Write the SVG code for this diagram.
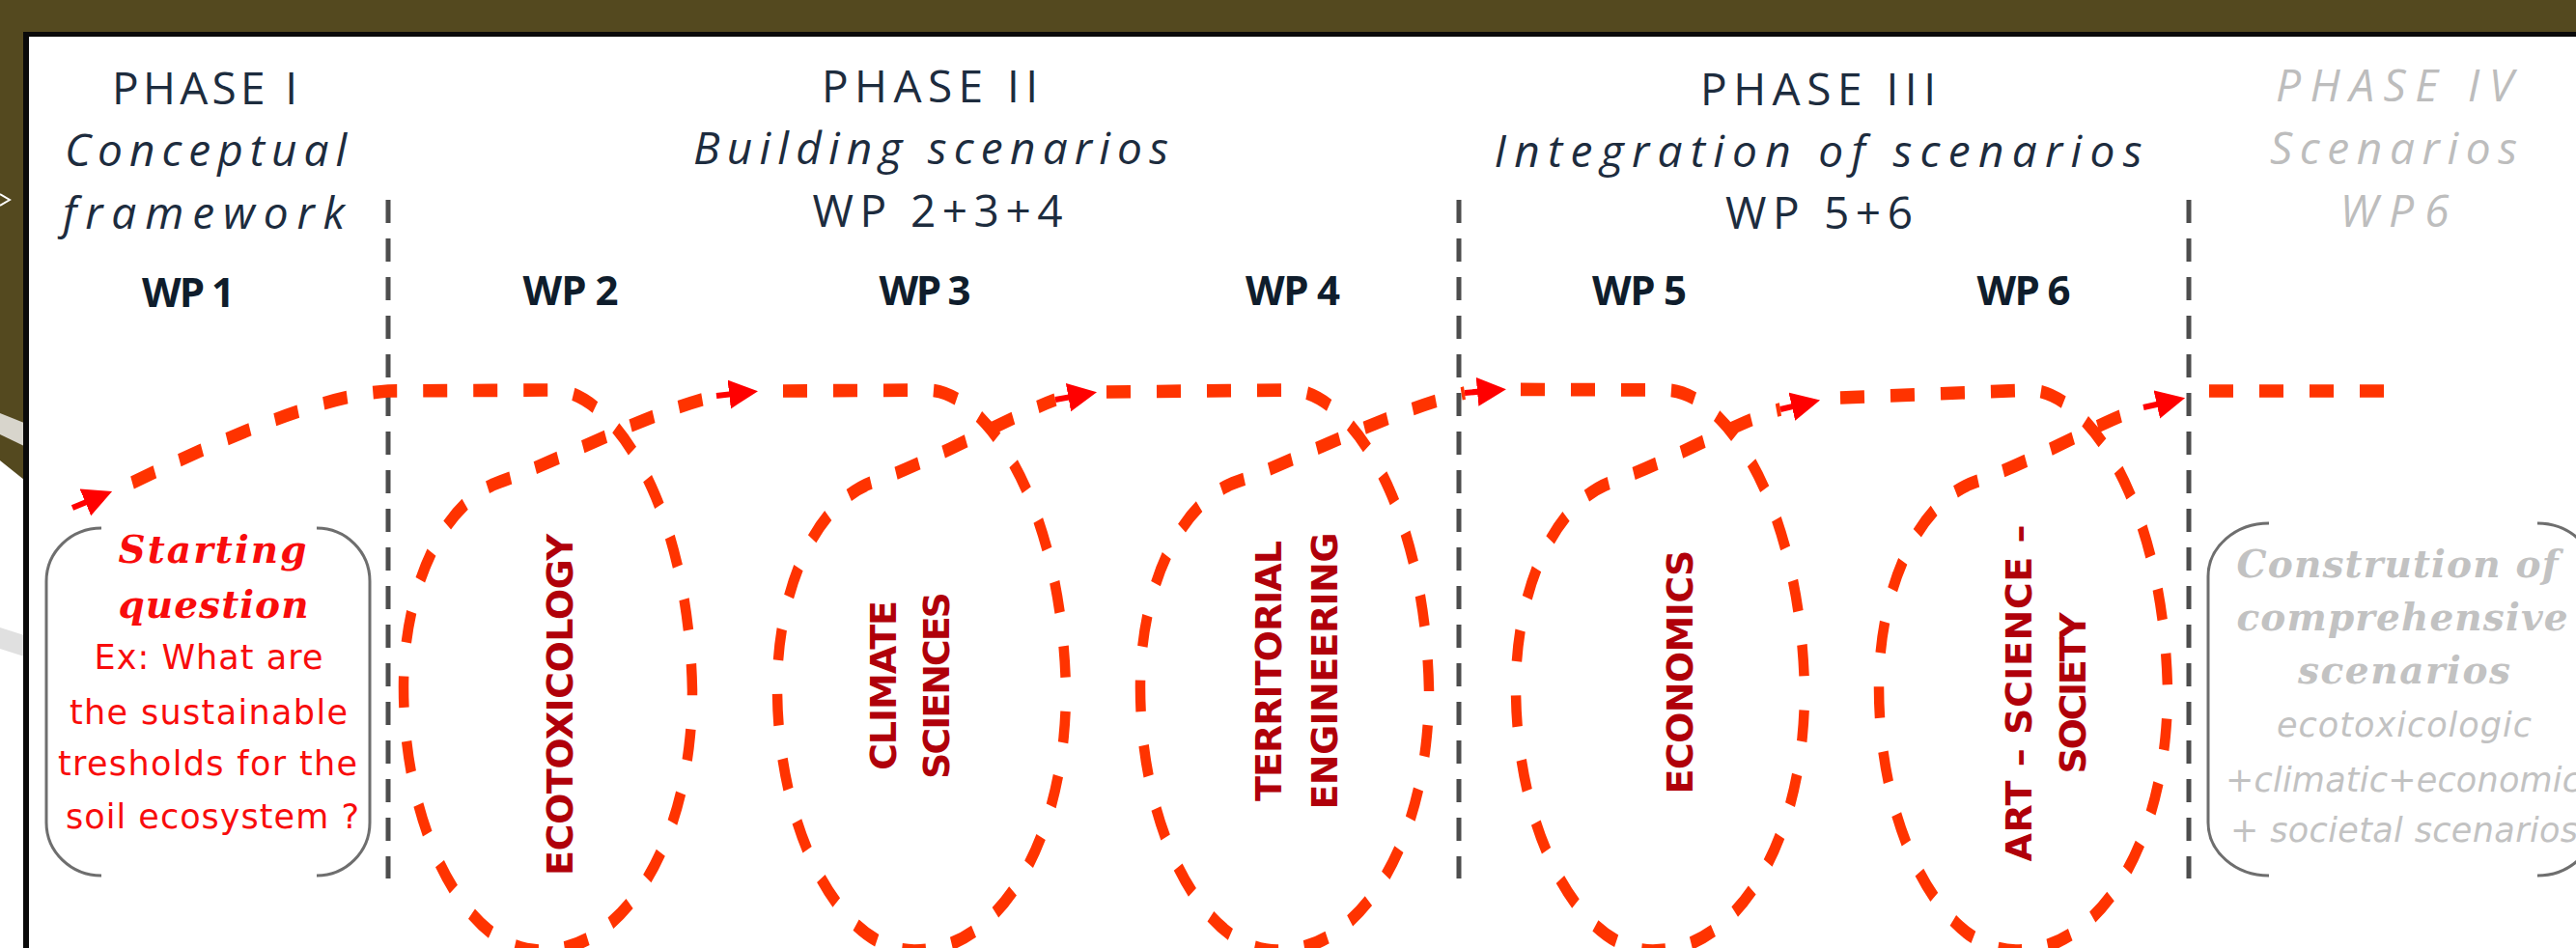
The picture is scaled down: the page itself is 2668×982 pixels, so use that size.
<svg xmlns="http://www.w3.org/2000/svg" width="2668" height="982" viewBox="0 0 2668 982">
<defs>
<style>
.hd{font-family:"Open Sans","Liberation Sans",sans-serif;font-size:46px;fill:#1d2c3e;text-anchor:middle}
.it{font-style:italic}
.g4{fill:#bdbdbd}
.wp{font-family:"Open Sans","Liberation Sans",sans-serif;font-weight:bold;font-size:42px;fill:#0f1d2c;text-anchor:middle}
.vt{font-family:"DejaVu Sans","Liberation Sans",sans-serif;font-weight:bold;font-size:38px;fill:#b0000a;text-anchor:middle}
.sq{font-family:"DejaVu Serif","Liberation Serif",serif;font-weight:bold;font-style:italic;font-size:39px;text-anchor:middle}
.sn{font-family:"DejaVu Sans","Liberation Sans",sans-serif;font-size:35px;text-anchor:middle}
.red{fill:#f80c0c}
.gr{fill:#c2c2c2}
.div{stroke:#4d4d4d;stroke-width:5;stroke-dasharray:24 16;fill:none}
.loop{fill:none;stroke:#ff3300;stroke-width:10.5;stroke-dasharray:25 27}
.arw{stroke:#ff0000;stroke-width:6;fill:none}
.br{fill:none;stroke:#6e6e6e;stroke-width:3}
</style>
<marker id="ah" markerUnits="userSpaceOnUse" markerWidth="34" markerHeight="32" viewBox="0 0 34 32" refX="17" refY="15" orient="auto">
<path d="M0,0 L30,15 L0,30 Z" fill="#ff0000"/>
</marker>
</defs>
<rect width="2668" height="982" fill="#ffffff"/>
<g id="frame">
<rect x="0" y="0" width="2668" height="34" fill="#54491f"/>
<polygon points="0,0 25,0 25,497 0,477" fill="#54491f"/>
<polygon points="0,428 25,438 25,462 0,450" fill="#d8d5cc"/>
<polygon points="0,650 25,658 25,680 0,672" fill="#e0e0e0"/>
<polyline points="0,201 10,207 0,213" fill="none" stroke="#ffffff" stroke-width="2"/>
<rect x="24" y="33" width="2644" height="5" fill="#0a0a0a"/>
<rect x="24" y="33" width="6" height="949" fill="#0a0a0a"/>
</g>
<g id="dividers">
<line class="div" x1="402" y1="207" x2="402" y2="910"/>
<line class="div" x1="1511" y1="207" x2="1511" y2="910"/>
<line class="div" x1="2267" y1="207" x2="2267" y2="910"/>
</g>
<g id="phase1">
<text class="hd" x="212" y="108" textLength="192">PHASE I</text>
<text class="hd it" x="213" y="172" textLength="292">Conceptual</text>
<text class="hd it" x="211" y="237" textLength="292">framework</text>
</g>
<g id="phase2">
<text class="hd" x="963" y="106" textLength="224">PHASE II</text>
<text class="hd it" x="964" y="170" textLength="492">Building scenarios</text>
<text class="hd" x="971" y="235" textLength="259">WP 2+3+4</text>
</g>
<g id="phase3">
<text class="hd" x="1883" y="109" textLength="244">PHASE III</text>
<text class="hd it" x="1883" y="173" textLength="671">Integration of scenarios</text>
<text class="hd" x="1884" y="237" textLength="194">WP 5+6</text>
</g>
<g id="phase4">
<text class="hd it g4" x="2480" y="105" textLength="246">PHASE IV</text>
<text class="hd it g4" x="2479" y="170" textLength="256">Scenarios</text>
<text class="hd it g4" x="2480" y="235" textLength="113">WP6</text>
</g>
<g id="wp-labels">
<text class="wp" x="195" y="318" textLength="96">WP 1</text>
<text class="wp" x="591" y="316" textLength="99">WP 2</text>
<text class="wp" x="958" y="316" textLength="95">WP 3</text>
<text class="wp" x="1339" y="316" textLength="98">WP 4</text>
<text class="wp" x="1698" y="316" textLength="98">WP 5</text>
<text class="wp" x="2096" y="316" textLength="97">WP 6</text>
</g>
<g id="start-question">
<path class="br" d="M105,547 A57,55 0 0 0 48,602 L48,852 A57,55 0 0 0 105,907 M328,547 A55,55 0 0 1 383,602 L383,852 A55,55 0 0 1 328,907"/>
<text class="sq red" x="220" y="583" textLength="195">Starting</text>
<text class="sq red" x="221" y="640" textLength="197">question</text>
<text class="sn red" x="216" y="693" textLength="237">Ex: What are</text>
<text class="sn red" x="216" y="750" textLength="288">the sustainable</text>
<text class="sn red" x="215" y="803" textLength="310">tresholds for the</text>
<text class="sn red" x="220" y="858" textLength="304">soil ecosystem ?</text>
</g>
<g id="ecotoxicology"><text class="vt" transform="translate(593,730) rotate(-90)" textLength="354">ECOTOXICOLOGY</text></g>
<g id="climate-sciences">
<text class="vt" transform="translate(928,710) rotate(-90)" textLength="176">CLIMATE</text>
<text class="vt" transform="translate(983,710) rotate(-90)" textLength="194">SCIENCES</text>
</g>
<g id="territorial-engineering">
<text class="vt" transform="translate(1327,695) rotate(-90)" textLength="270">TERRITORIAL</text>
<text class="vt" transform="translate(1385,695) rotate(-90)" textLength="287">ENGINEERING</text>
</g>
<g id="economics"><text class="vt" transform="translate(1753,696) rotate(-90)" textLength="253">ECONOMICS</text></g>
<g id="art-science-society">
<text class="vt" transform="translate(2104,718) rotate(-90)" textLength="349">ART – SCIENCE –</text>
<text class="vt" transform="translate(2160,718) rotate(-90)" textLength="167">SOCIETY</text>
</g>
<g id="comprehensive-scenarios">
<path class="br" d="M2350,542 A63,55 0 0 0 2287,597 L2287,852 A63,55 0 0 0 2350,907 M2628,542 A60,55 0 0 1 2688,597 L2688,852 A60,55 0 0 1 2628,907"/>
<text class="sq gr" x="2483" y="598" textLength="333">Constrution of</text>
<text class="sq gr" x="2488" y="653" textLength="343">comprehensive</text>
<text class="sq gr" x="2490" y="708" textLength="220">scenarios</text>
<text class="sn gr it" x="2490" y="763" textLength="264">ecotoxicologic</text>
<text class="sn gr it" x="2305" y="820" textLength="368" style="text-anchor:start">+climatic+economic</text>
<text class="sn gr it" x="2310" y="872" textLength="360" style="text-anchor:start">+ societal scenarios</text>
</g>
<g id="connectors">
<g transform="matrix(1 0 0 1.3 0 -121.2)">
<path class="loop" d="M137,477.85 C230,443.23 330,408.62 402,404.77 L573,404 C633,404 713,493.23 717,643.23 C717,762.46 648,850.92 560,850.92 C483,850.92 418,754.77 418,640.92 C418,562.46 458,493.23 518,477.08 C578,460.92 668,422.46 742,408.62"/>
<path class="loop" d="M811,404.77 L960,404 C1020,404 1100,493.23 1104,643.23 C1104,762.46 1035,850.92 947,850.92 C870,850.92 805,754.77 805,640.92 C805,562.46 845,493.23 905,477.08 C965,460.92 1045,425.54 1093,411.69"/>
<path class="loop" d="M1146,405.54 L1336,404 C1396,404 1476,493.23 1480,643.23 C1480,762.46 1411,850.92 1323,850.92 C1246,850.92 1181,754.77 1181,640.92 C1181,562.46 1221,493.23 1281,477.08 C1341,460.92 1436,421.69 1517,406.31"/>
<path class="loop" d="M1575,403.5 L1725,404 C1785,404 1865,493.23 1869,643.23 C1869,762.46 1800,850.92 1712,850.92 C1635,850.92 1570,754.77 1570,640.92 C1570,562.46 1610,493.23 1670,477.08 C1730,460.92 1800,428.62 1844,419.38"/>
<path class="loop" d="M1906,410.15 L2101,404 C2161,404 2241,493.23 2245,643.23 C2245,762.46 2176,850.92 2088,850.92 C2011,850.92 1946,754.77 1946,640.92 C1946,562.46 1986,493.23 2046,477.08 C2106,460.92 2176,428.62 2220,417.85"/>
<path class="loop" d="M2288,404.77 L2469,404.77"/>
</g>
<line class="arw" x1="75" y1="526" x2="104.1" y2="513.9" marker-end="url(#ah)"/>
<line class="arw" x1="742" y1="410" x2="772.1" y2="406.6" marker-end="url(#ah)"/>
<line class="arw" x1="1093" y1="414" x2="1123.2" y2="408.6" marker-end="url(#ah)"/>
<line class="arw" x1="1517" y1="407" x2="1547" y2="404.3" marker-end="url(#ah)"/>
<line class="arw" x1="1844" y1="424" x2="1872.4" y2="417.4" marker-end="url(#ah)"/>
<line class="arw" x1="2220" y1="422" x2="2250.4" y2="415.2" marker-end="url(#ah)"/>
</g>
</svg>
